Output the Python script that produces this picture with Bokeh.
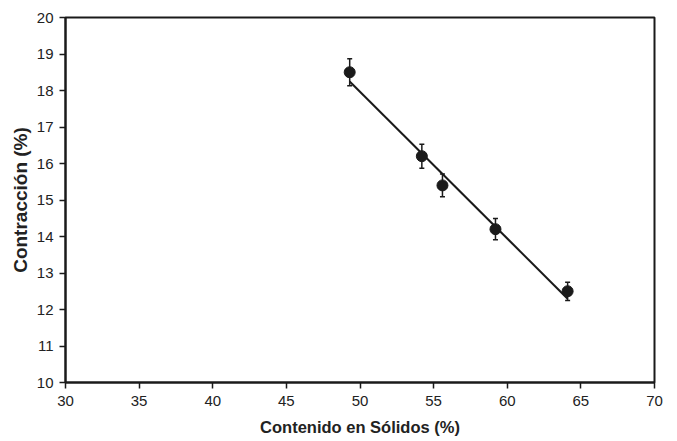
import numpy as np
from bokeh.plotting import figure
from bokeh.models import ColumnDataSource, Whisker, TeeHead, Range1d, FixedTicker
from bokeh.embed import file_html
from bokeh.resources import INLINE

solidos = [49.3, 54.2, 55.6, 59.2, 64.1]
contraccion = [18.5, 16.2, 15.4, 14.2, 12.5]
error = [0.37, 0.33, 0.31, 0.29, 0.25]
x_ticks = [30, 35, 40, 45, 50, 55, 60, 65, 70]
y_ticks = [10, 11, 12, 13, 14, 15, 16, 17, 18, 19, 20]

FONT = "Liberation Sans"
INK = "#1a1a1a"

p = figure(width=677, height=441, output_backend="svg", toolbar_location=None,
           x_range=Range1d(30, 70), y_range=Range1d(10, 20),
           min_border_left=65, min_border_right=23, min_border_top=17, min_border_bottom=59)

p.xgrid.visible = False
p.ygrid.visible = False
p.outline_line_color = INK
p.outline_line_width = 2
p.background_fill_color = "white"
p.border_fill_color = "white"

# trend line (least squares fit of the data)
m, b = np.polyfit(solidos, contraccion, 1)
xl = [min(solidos), max(solidos)]
p.line(xl, [m * v + b for v in xl], line_color=INK, line_width=2)

src = ColumnDataSource(dict(x=solidos, y=contraccion,
                            lo=[c - e for c, e in zip(contraccion, error)],
                            hi=[c + e for c, e in zip(contraccion, error)]))
w = Whisker(source=src, base="x", lower="lo", upper="hi", line_color=INK, line_width=1.5,
            upper_head=TeeHead(size=5, line_color=INK, line_width=1.5),
            lower_head=TeeHead(size=5, line_color=INK, line_width=1.5))
p.add_layout(w)
p.scatter("x", "y", source=src, size=11, fill_color=INK, line_color=INK)

for ax in (p.xaxis[0], p.yaxis[0]):
    ax.axis_line_color = INK
    ax.axis_line_width = 2
    ax.major_tick_line_color = INK
    ax.major_tick_line_width = 1.5
    ax.major_tick_out = 6
    ax.major_tick_in = 0
    ax.minor_tick_line_color = None
    ax.major_label_text_font = FONT
    ax.major_label_text_font_size = "15px"
    ax.major_label_text_color = "#222222"
    ax.axis_label_text_font = FONT
    ax.axis_label_text_font_style = "bold"
    ax.axis_label_text_color = "#222222"

p.xaxis.ticker = FixedTicker(ticks=x_ticks)
p.yaxis.ticker = FixedTicker(ticks=y_ticks)
p.xaxis.axis_label = "Contenido en Sólidos (%)"
p.yaxis.axis_label = "Contracción (%)"
p.xaxis.axis_label_text_font_size = "16.5px"
p.yaxis.axis_label_text_font_size = "19px"
p.xaxis.major_label_standoff = 7
p.yaxis.major_label_standoff = 6
p.xaxis.axis_label_standoff = 9
p.yaxis.axis_label_standoff = 3

open("out.html", "w").write(file_html(p, INLINE))
